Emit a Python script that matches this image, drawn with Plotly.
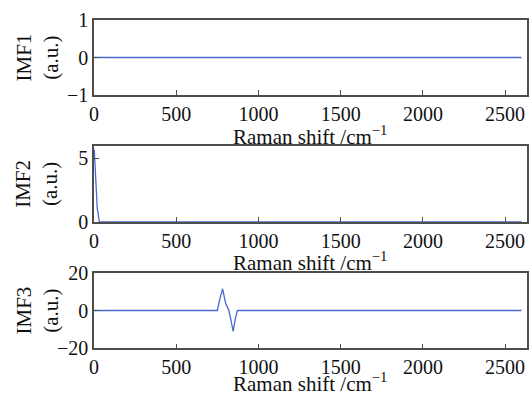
import plotly.graph_objects as go

# ---- data ----
imf1_x = [0, 2600]
imf1_y = [0, 0]

imf2_x = [0, 2, 20, 24, 32, 2600]
imf2_y = [5.7, 5.6, 1.0, 0.8, 0, 0]

imf3_x = [0, 750, 765, 782, 800, 820, 835, 846, 860, 872, 2600]
imf3_y = [0, 0, 6, 11.5, 4, 0, -6, -11, -4, 0, 0]

x_ticks = [0, 500, 1000, 1500, 2000, 2500]
y_ticks = [[-1, 0, 1], [0, 5], [-20, 0, 20]]
y_ranges = [[-1, 1], [0, 6], [-20, 20]]
panel_names = ["IMF1", "IMF2", "IMF3"]
x_title = "Raman shift /cm<sup>−1</sup>"

series = [(imf1_x, imf1_y), (imf2_x, imf2_y), (imf3_x, imf3_y)]

W, H = 531, 395
FONT = "Liberation Serif"
LINE = "#4a68d4"
AXC = "#4d4d4d"

x0, x1 = 94 / W, 526.5 / W
ydoms = [(1 - 95 / H, 1 - 20 / H), (1 - 222 / H, 1 - 145.7 / H), (1 - 348.3 / H, 1 - 272.7 / H)]
title_y = [135, 261.5, 382]

fig = go.Figure()
layout = dict(width=W, height=H, margin=dict(l=0, r=0, t=0, b=0, autoexpand=False),
              paper_bgcolor="white", plot_bgcolor="white", showlegend=False,
              font=dict(family=FONT, size=20, color="#111"))
annotations = []
for i, (xs, ys) in enumerate(series):
    n = "" if i == 0 else str(i + 1)
    fig.add_trace(go.Scatter(x=xs, y=ys, mode="lines", line=dict(color=LINE, width=1.3),
                             xaxis="x" + n, yaxis="y" + n, hoverinfo="skip"))
    layout["xaxis" + n] = dict(domain=[x0, x1], anchor="y" + n, range=[0, 2630],
                               tickvals=x_ticks, ticks="inside", ticklen=5, tickcolor=AXC,
                               showline=True, linecolor=AXC, linewidth=1.5, mirror=True,
                               showgrid=False, zeroline=False, automargin=False,
                               tickfont=dict(family=FONT, size=20, color="#111"))
    layout["yaxis" + n] = dict(domain=list(ydoms[i]), anchor="x" + n, range=y_ranges[i],
                               tickvals=y_ticks[i], ticks="inside", ticklen=5, tickcolor=AXC,
                               showline=True, linecolor=AXC, linewidth=1.5, mirror=True,
                               showgrid=False, zeroline=False, automargin=False,
                               tickfont=dict(family=FONT, size=20, color="#111"))
    annotations.append(dict(text=x_title, x=(x0 + x1) / 2, y=1 - title_y[i] / H,
                            xref="paper", yref="paper", xanchor="center", yanchor="middle",
                            showarrow=False, font=dict(family=FONT, size=21, color="#111")))
    yc = (ydoms[i][0] + ydoms[i][1]) / 2
    annotations.append(dict(text=panel_names[i] + "<br>(a.u.)", x=37 / W, y=yc,
                            xref="paper", yref="paper", xanchor="center", yanchor="middle",
                            textangle=-90, showarrow=False,
                            font=dict(family=FONT, size=21, color="#111")))
layout["annotations"] = annotations
fig.update_layout(**layout)
fig.write_html("out.html", config={"displayModeBar": False},
               post_script="document.body.style.margin='0';document.body.style.padding='0';")
